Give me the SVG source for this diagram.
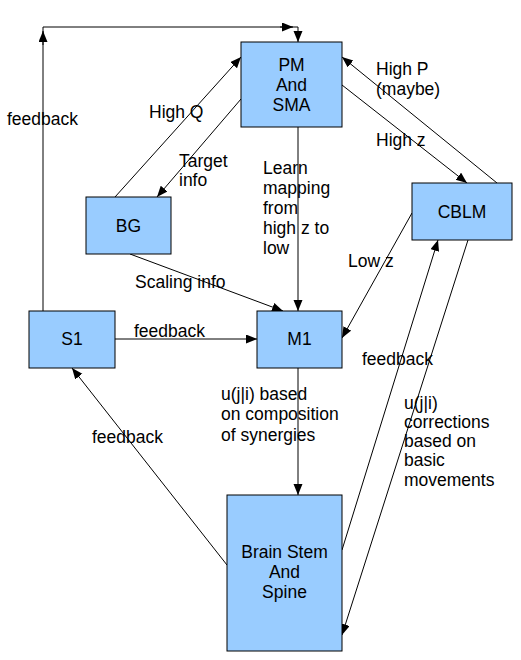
<svg xmlns="http://www.w3.org/2000/svg" width="521" height="660" viewBox="0 0 521 660">
<style>
.box{fill:#99ccff;stroke:#000;stroke-width:1}
.t{font-family:"Liberation Sans",Arial,sans-serif;font-size:17.5px;fill:#000}
.c{text-anchor:middle}
.ln{stroke:#000;stroke-width:1;fill:none}
.a{marker-end:url(#ah)}
</style>
<defs>
<marker id="ah" markerUnits="userSpaceOnUse" markerWidth="12" markerHeight="10" refX="11" refY="4.5" orient="auto">
<path d="M0,0 L11,4.5 L0,9 z" fill="#000"/>
</marker>
</defs>
<rect width="521" height="660" fill="#fff"/>
<g id="connectors">
<polyline class="ln a" points="43,311 43,27 298,27 298,42"/>
<line class="ln a" x1="43" y1="45" x2="43" y2="31"/>
<line class="ln a" x1="280" y1="27" x2="293" y2="27"/>
<line class="ln a" x1="115" y1="197" x2="241" y2="57"/>
<line class="ln a" x1="241" y1="99" x2="157" y2="197"/>
<line class="ln a" x1="298" y1="127" x2="298" y2="311"/>
<line class="ln a" x1="342" y1="85" x2="467" y2="183"/>
<line class="ln a" x1="497" y1="183" x2="342" y2="57"/>
<line class="ln a" x1="130" y1="254" x2="283" y2="311"/>
<line class="ln a" x1="412" y1="213" x2="342" y2="338"/>
<line class="ln a" x1="115" y1="339" x2="257" y2="339"/>
<line class="ln a" x1="298" y1="368" x2="298" y2="495"/>
<line class="ln a" x1="227" y1="565" x2="72" y2="368"/>
<line class="ln a" x1="342" y1="550" x2="438" y2="240"/>
<line class="ln a" x1="468" y1="240" x2="342" y2="635"/>
<text class="t" x="7" y="125">feedback</text>
<text class="t" x="149" y="118">High Q</text>
<text class="t" x="179" y="167">Target</text>
<text class="t" x="179" y="186">info</text>
<text class="t" x="376" y="75">High P</text>
<text class="t" x="376" y="95">(maybe)</text>
<text class="t" x="376" y="146">High z</text>
<text class="t" x="263" y="174">Learn</text>
<text class="t" x="263" y="194">mapping</text>
<text class="t" x="263" y="214">from</text>
<text class="t" x="263" y="234">high z to</text>
<text class="t" x="263" y="254">low</text>
<text class="t" x="348" y="267">Low z</text>
<text class="t" x="135" y="288">Scaling info</text>
<text class="t" x="134" y="337">feedback</text>
<text class="t" x="362" y="365">feedback</text>
<text class="t" x="221" y="400">u(j|i) based</text>
<text class="t" x="221" y="420">on composition</text>
<text class="t" x="221" y="441">of synergies</text>
<text class="t" x="404" y="409">u(j|i)</text>
<text class="t" x="404" y="428">corrections</text>
<text class="t" x="404" y="447">based on</text>
<text class="t" x="404" y="466">basic</text>
<text class="t" x="404" y="486">movements</text>
<text class="t" x="92" y="443">feedback</text>
</g>
<g id="pm">
<rect class="box" x="241" y="42" width="101" height="85"/>
<text class="t c" x="291.5" y="71">PM</text>
<text class="t c" x="291.5" y="91">And</text>
<text class="t c" x="291.5" y="111">SMA</text>
</g>
<g id="bg">
<rect class="box" x="86" y="197" width="85" height="57"/>
<text class="t c" x="128.5" y="232">BG</text>
</g>
<g id="cblm">
<rect class="box" x="412" y="183" width="100" height="57"/>
<text class="t c" x="462" y="218">CBLM</text>
</g>
<g id="s1">
<rect class="box" x="29" y="311" width="86" height="57"/>
<text class="t c" x="72" y="345">S1</text>
</g>
<g id="m1">
<rect class="box" x="257" y="311" width="85" height="57"/>
<text class="t c" x="299.5" y="345">M1</text>
</g>
<g id="brainstem">
<rect class="box" x="227" y="495" width="115" height="156"/>
<text class="t c" x="284.5" y="558">Brain Stem</text>
<text class="t c" x="284.5" y="578">And</text>
<text class="t c" x="284.5" y="598">Spine</text>
</g>
</svg>
